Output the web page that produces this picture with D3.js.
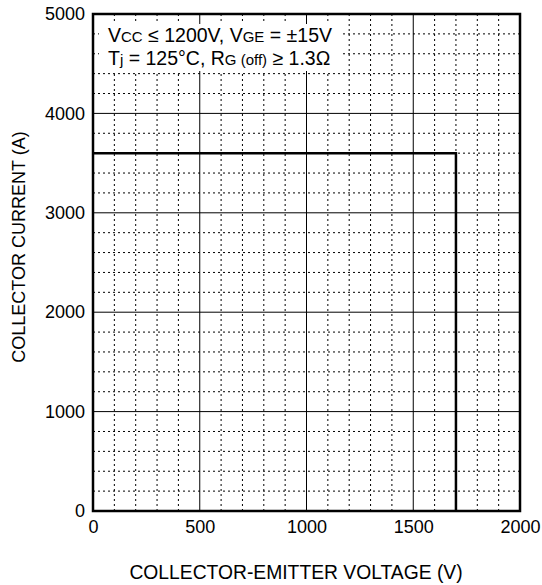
<!DOCTYPE html>
<html>
<head>
<meta charset="utf-8">
<script src="https://cdn.jsdelivr.net/npm/d3@7"></script>
<style>
  body { margin: 0; background: #fff; }
  text { font-family: "Liberation Sans", Arial, Helvetica, sans-serif; fill: #000; }
</style>
</head>
<body>
<div id="chart"></div>
<script>
var svgWidth = 542;
var svgHeight = 585;

var margin = { top: 14, right: 22, bottom: 74, left: 93 };
var width = svgWidth - margin.left - margin.right;
var height = svgHeight - margin.top - margin.bottom;

// RBSOA limit outline (voltage V, current A)
var limitVoltage = [0, 1700, 1700];
var limitCurrent = [3600, 3600, 0];

var xTicks = [0, 500, 1000, 1500, 2000];
var yTicks = [0, 1000, 2000, 3000, 4000, 5000];
var xMinor = d3.range(0, 2001, 100);
var yMinor = d3.range(0, 5001, 200);

var svg = d3.select("#chart")
  .append("svg")
  .attr("width", svgWidth)
  .attr("height", svgHeight);

var chartGroup = svg.append("g")
  .attr("transform", `translate(${margin.left}, ${margin.top})`);

var x = d3.scaleLinear().domain([0, 2000]).range([0, width]);
var y = d3.scaleLinear().domain([0, 5000]).range([height, 0]);

// minor dashed grid
chartGroup.selectAll(".xminor")
  .data(xMinor.filter(d => d % 500 !== 0))
  .enter().append("line")
  .attr("x1", d => x(d)).attr("x2", d => x(d))
  .attr("y1", 0).attr("y2", height)
  .attr("stroke", "#000").attr("stroke-width", 1)
  .attr("stroke-dasharray", "2,3");

chartGroup.selectAll(".yminor")
  .data(yMinor.filter(d => d % 1000 !== 0))
  .enter().append("line")
  .attr("y1", d => y(d)).attr("y2", d => y(d))
  .attr("x1", 0).attr("x2", width)
  .attr("stroke", "#000").attr("stroke-width", 1)
  .attr("stroke-dasharray", "2,3");

// major solid grid
chartGroup.selectAll(".xmajor")
  .data(xTicks.slice(1, -1))
  .enter().append("line")
  .attr("x1", d => x(d)).attr("x2", d => x(d))
  .attr("y1", 0).attr("y2", height)
  .attr("stroke", "#000").attr("stroke-width", 1);

chartGroup.selectAll(".ymajor")
  .data(yTicks.slice(1, -1))
  .enter().append("line")
  .attr("y1", d => y(d)).attr("y2", d => y(d))
  .attr("x1", 0).attr("x2", width)
  .attr("stroke", "#000").attr("stroke-width", 1);

// annotation box
chartGroup.append("rect")
  .attr("x", 6).attr("y", 10)
  .attr("width", 241).attr("height", 47)
  .attr("fill", "#fff");

var note = chartGroup.append("g").attr("font-size", 19.5);
var l1 = note.append("text").attr("x", 15).attr("y", 28);
l1.append("tspan").text("V");
l1.append("tspan").attr("font-size", 15).text("CC");
l1.append("tspan").text(" \u2264 1200V, V");
l1.append("tspan").attr("font-size", 15).text("GE");
l1.append("tspan").text(" = \u00b115V");

var l2 = note.append("text").attr("x", 15).attr("y", 51);
l2.append("tspan").text("T");
l2.append("tspan").attr("font-size", 15).text("j");
l2.append("tspan").text(" = 125\u00b0C, R");
l2.append("tspan").attr("font-size", 15).text("G (off)");
l2.append("tspan").text(" \u2265 1.3\u03a9");

// limit line
var line = d3.line()
  .x((d, i) => x(limitVoltage[i]))
  .y(d => y(d));

chartGroup.append("path")
  .datum(limitCurrent)
  .attr("d", line)
  .attr("fill", "none")
  .attr("stroke", "#000")
  .attr("stroke-width", 2.5);

// frame
chartGroup.append("rect")
  .attr("x", 0).attr("y", 0)
  .attr("width", width).attr("height", height)
  .attr("fill", "none")
  .attr("stroke", "#000")
  .attr("stroke-width", 2.5);

// axes (labels only)
var bottomAxis = d3.axisBottom(x).tickValues(xTicks).tickFormat(d3.format("d")).tickSize(0).tickPadding(9);
var leftAxis = d3.axisLeft(y).tickValues(yTicks).tickFormat(d3.format("d")).tickSize(0).tickPadding(8);

var xAxis = chartGroup.append("g")
  .attr("transform", `translate(0, ${height})`)
  .call(bottomAxis);
var yAxis = chartGroup.append("g").call(leftAxis);

[xAxis, yAxis].forEach(function(a) {
  a.select(".domain").remove();
  a.selectAll("text")
    .attr("font-size", 18)
    .attr("font-family", "'Liberation Sans', Arial, sans-serif")
    .attr("fill", "#000");
});

// axis titles
svg.append("text")
  .attr("x", 296)
  .attr("y", 579)
  .attr("text-anchor", "middle")
  .attr("font-size", 19.3)
  .text("COLLECTOR-EMITTER VOLTAGE (V)");

svg.append("text")
  .attr("transform", "translate(25, 247) rotate(-90)")
  .attr("text-anchor", "middle")
  .attr("font-size", 18)
  .text("COLLECTOR CURRENT (A)");
</script>
</body>
</html>
